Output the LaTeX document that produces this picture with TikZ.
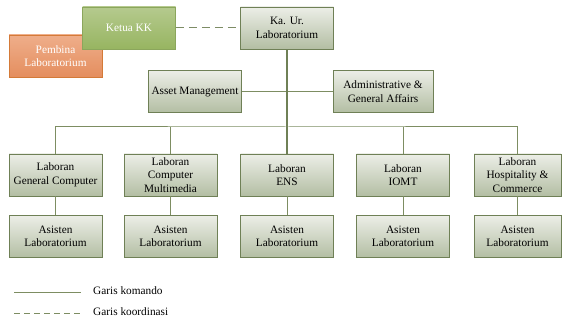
\documentclass[tikz,border=0pt]{standalone}
\usepackage{fontspec}
\setmainfont{Liberation Serif}
\usetikzlibrary{
    positioning % for placing the assistant boxes below their laboran
}

\definecolor{boxtop}{HTML}{ECEEE7}
\definecolor{boxbottom}{HTML}{B3BEA3}
\definecolor{boxline}{HTML}{6F8056}
\definecolor{greentop}{HTML}{B5CA8E}
\definecolor{greenbottom}{HTML}{97B561}
\definecolor{greenline}{HTML}{8BA65C}
\definecolor{orangetop}{HTML}{EFAE8A}
\definecolor{orangebottom}{HTML}{E48E5F}
\definecolor{orangeline}{HTML}{D47A38}
\definecolor{linkline}{HTML}{7D8D62}

\begin{document}
\begin{tikzpicture}[
    x=1pt,y=-1pt,node distance=61.5pt,on grid,
    font=\fontsize{11.3}{13.5}\selectfont,
    every unit/.style   = {draw=boxline,line width=0.9pt,shading=axis,top color=boxtop,bottom color=boxbottom,
                           minimum width=93pt,minimum height=42pt,inner sep=1pt,align=center},
    unit/.style         = {every unit},
    green unit/.style   = {every unit,draw=greenline,top color=greentop,bottom color=greenbottom,text=white},
    orange unit/.style  = {every unit,draw=orangeline,top color=orangetop,bottom color=orangebottom,text=white},
    komando/.style      = {draw=linkline,line width=1pt},
    koordinasi/.style   = {draw=linkline!90!gray,line width=1pt,dash pattern=on 8pt off 5pt}
]

\useasboundingbox (0,0) rectangle (562,320);

% top of the chart

    \node [orange unit] (pembina) at (55.5,56)  {Pembina\\Laboratorium};
    \node [green unit]  (ketua)   at (129,28)   {Ketua KK};
    \node [unit]        (kaur)    at (287,28)   {Ka. Ur.\\Laboratorium};

    \node [unit]                         (asset) at (195,91.5) {Asset Management};
    \node [unit,minimum width=100pt]     (admin) at (383,91.5) {Administrative \&\\General Affairs};

% laboran row

    \node [unit] (gc)   at (55.5,175)  {Laboran\\General Computer};
    \node [unit] (cm)   at (170.5,175) {Laboran\\Computer\\Multimedia};
    \node [unit] (ens)  at (287,175)   {Laboran\\ENS};
    \node [unit] (iomt) at (403,175)   {Laboran\\IOMT};
    \node [unit,minimum width=87pt] (hc) at (517.5,175) {Laboran\\Hospitality \&\\Commerce};

% asisten row

    \node [unit]                    (agc)   [below=of gc]   {Asisten\\Laboratorium};
    \node [unit]                    (acm)   [below=of cm]   {Asisten\\Laboratorium};
    \node [unit]                    (aens)  [below=of ens]  {Asisten\\Laboratorium};
    \node [unit]                    (aiomt) [below=of iomt] {Asisten\\Laboratorium};
    \node [unit,minimum width=87pt] (ahc)   [below=of hc]   {Asisten\\Laboratorium};

% connectors

    \coordinate (bus) at (287,127);

    \draw [koordinasi] (ketua) -- (kaur);
    \draw [komando] (asset) -- (admin);
    \draw [komando,line width=1.3pt,draw=boxline] (kaur) -- (ens);
    \draw [komando] (gc.north) |- (bus) -| (hc.north);
    \draw [komando] (cm.north) -- (cm.north |- bus);
    \draw [komando] (iomt.north) -- (iomt.north |- bus);

    \foreach \lab/\asis in {gc/agc,cm/acm,ens/aens,iomt/aiomt,hc/ahc}
        \draw [komando] (\lab) -- (\asis);

% legend

    \coordinate (k1) at (14,292);
    \coordinate (k2) at (81,292);
    \coordinate (d1) at (14,313);
    \coordinate (d2) at (81,313);
    \draw [komando,line width=0.8pt] (k1) -- (k2);
    \draw [komando,line width=0.8pt,dash pattern=on 6pt off 4pt] (d1) -- (d2);
    \node [anchor=west,inner sep=1pt] (lkomando)    at (92,291) {Garis komando};
    \node [anchor=west,inner sep=1pt] (lkoordinasi) at (92,312) {Garis koordinasi};

\end{tikzpicture}
\end{document}
